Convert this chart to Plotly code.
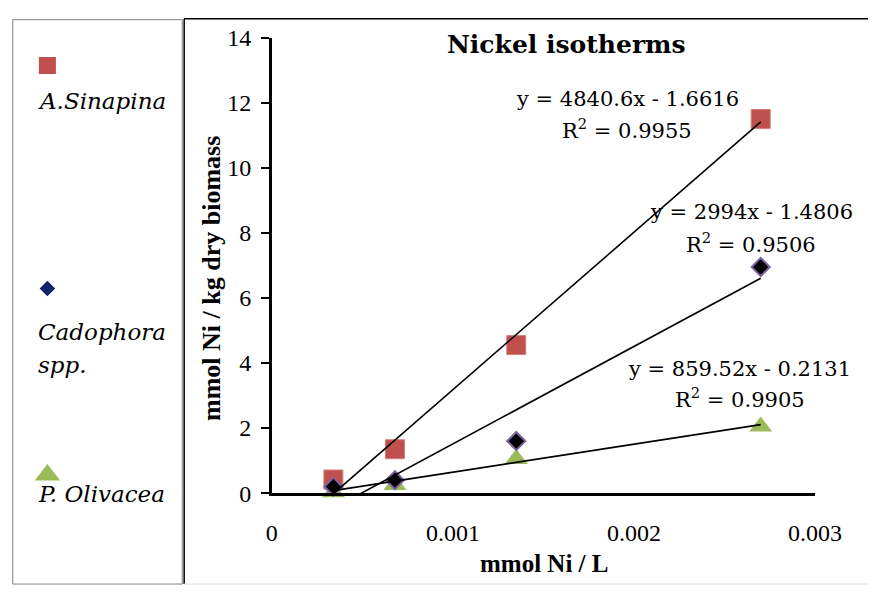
import plotly.graph_objects as go

# ---------------- data ----------------
x_conc = [0.00034, 0.00068, 0.00135, 0.0027]          # mmol Ni / L
y_sinapina = [0.42, 1.35, 4.55, 11.5]
y_cadophora = [0.2, 0.4, 1.6, 6.95]
y_olivacea = [0.03, 0.25, 1.05, 2.05]

species = ["A.Sinapina", "Cadophora", "P. Olivacea"]
slopes = [4840.6, 2994, 859.52]
intercepts = [-1.6616, -1.4806, -0.2131]
r2_values = [0.9955, 0.9506, 0.9905]

x_tickvals = [0, 0.001, 0.002, 0.003]
x_ticktext = ["0", "0.001", "0.002", "0.003"]
y_tickvals = [0, 2, 4, 6, 8, 10, 12, 14]

RED = "#C0504D"
GREEN = "#9BBB59"
PURPLE = "#8064A2"
NAVY = "#13236A"

W, H = 895, 598
FONT = "DejaVu Serif"
TIMES = "Liberation Serif"


def px(x):
    return x / W


def py(y):
    return 1 - y / H


fig = go.Figure()

# main data markers
fig.add_trace(go.Scatter(x=x_conc, y=y_sinapina, mode="markers", cliponaxis=False,
                         marker=dict(symbol="square", size=19, color=RED,
                                     line=dict(color="#D47F7C", width=1)),
                         name=species[0]))
fig.add_trace(go.Scatter(x=x_conc, y=y_olivacea, mode="markers", cliponaxis=False,
                         marker=dict(symbol="triangle-up", size=20, color=GREEN),
                         name=species[2]))
fig.add_trace(go.Scatter(x=x_conc, y=y_cadophora, mode="markers", cliponaxis=False,
                         marker=dict(symbol="diamond", size=14, color="black",
                                     line=dict(color=PURPLE, width=2)),
                         name=species[1]))

# linear trendlines (from the equations shown on the chart)
xmin, xmax = min(x_conc), max(x_conc)
for s, b in zip(slopes, intercepts):
    fig.add_trace(go.Scatter(x=[xmin, xmax], y=[s * xmin + b, s * xmax + b],
                             mode="lines", line=dict(color="black", width=1.6),
                             hoverinfo="skip", showlegend=False))

# custom legend panel markers (hidden helper axes, pixel-like coordinates)
fig.add_trace(go.Scatter(x=[43], y=[55], xaxis="x2", yaxis="y2", mode="markers",
                         marker=dict(symbol="square", size=17, color=RED), showlegend=False))
fig.add_trace(go.Scatter(x=[43], y=[288], xaxis="x2", yaxis="y2", mode="markers",
                         marker=dict(symbol="diamond", size=12, color=NAVY), showlegend=False))
fig.add_trace(go.Scatter(x=[43], y=[483], xaxis="x2", yaxis="y2", mode="markers",
                         marker=dict(symbol="triangle-up", size=22, color=GREEN), showlegend=False))

annotations = []

# title
annotations.append(dict(text="<b>Nickel isotherms</b>", x=px(582), y=py(33), xref="paper", yref="paper",
                        showarrow=False, xanchor="center", yanchor="middle",
                        font=dict(family=FONT, size=25, color="black")))

# equation labels
eq_pos = [(645, 90, 121), (774, 208, 240), (762, 372, 403)]
for (cx, y1, y2), s, b, r2 in zip(eq_pos, slopes, intercepts, r2_values):
    annotations.append(dict(text=f"y = {s:g}x - {abs(b):g}", x=px(cx), y=py(y1),
                            xref="paper", yref="paper", showarrow=False,
                            xanchor="center", yanchor="middle",
                            font=dict(family=FONT, size=21, color="black")))
    annotations.append(dict(text=f"R<sup>2</sup> = {r2:g}", x=px(cx), y=py(y2),
                            xref="paper", yref="paper", showarrow=False,
                            xanchor="center", yanchor="middle",
                            font=dict(family=FONT, size=21, color="black")))

# axis titles
annotations.append(dict(text="<b>mmol Ni / L</b>", x=px(559), y=py(575), xref="paper", yref="paper",
                        showarrow=False, xanchor="center", yanchor="middle",
                        font=dict(family=TIMES, size=25, color="black")))
annotations.append(dict(text="<b>mmol Ni / kg dry biomass</b>", x=px(214), y=py(278), xref="paper",
                        yref="paper", showarrow=False, xanchor="center", yanchor="middle",
                        textangle=-90, font=dict(family=TIMES, size=26, color="black")))

# legend texts
leg_font = dict(family=FONT, size=23, color="black")
for txt, yy in [("<i>A.Sinapina</i>", 92), ("<i>Cadophora</i>", 333),
                ("<i>spp.</i>", 368), ("<i>P. Olivacea</i>", 503)]:
    annotations.append(dict(text=txt, x=px(31), y=py(yy), xref="paper", yref="paper",
                            showarrow=False, xanchor="left", yanchor="middle", font=leg_font))

shapes = [
    # legend panel box
    dict(type="rect", xref="paper", yref="paper", x0=px(7), x1=px(183), y0=py(597), y1=py(7),
         line=dict(color="#808080", width=1)),
    # chart box left and top borders
    dict(type="line", xref="paper", yref="paper", x0=px(185), x1=px(185), y0=py(597), y1=py(6),
         line=dict(color="black", width=1.5)),
    dict(type="line", xref="paper", yref="paper", x0=px(185), x1=px(895), y0=py(6), y1=py(6),
         line=dict(color="black", width=1.5)),
    dict(type="line", xref="paper", yref="paper", x0=px(185), x1=px(895), y0=py(597), y1=py(597),
         line=dict(color="#E0E0E0", width=1)),
]

fig.update_layout(
    width=W, height=H,
    margin=dict(l=0, r=0, t=0, b=0),
    paper_bgcolor="white", plot_bgcolor="white",
    showlegend=False,
    annotations=annotations,
    shapes=shapes,
    xaxis=dict(domain=[px(276), px(840)], range=[0, 0.003], tickvals=x_tickvals, ticktext=x_ticktext,
               showline=True, linecolor="black", linewidth=2.5, ticks="", showgrid=False,
               zeroline=False, ticklabelstandoff=16,
               tickfont=dict(family=TIMES, size=24, color="black"), anchor="y"),
    yaxis=dict(domain=[py(502), py(25.7)], range=[0, 14], tickvals=y_tickvals,
               showline=True, linecolor="black", linewidth=2.5, ticks="outside", ticklen=8,
               tickwidth=2, tickcolor="black", showgrid=False, zeroline=False,
               ticklabelstandoff=5,
               tickfont=dict(family=TIMES, size=24, color="black"), anchor="x"),
    xaxis2=dict(domain=[0, px(183)], range=[0, 183], visible=False, anchor="y2"),
    yaxis2=dict(domain=[0, 1], range=[598, 0], visible=False, anchor="x2"),
)

fig.write_html("out.html")
